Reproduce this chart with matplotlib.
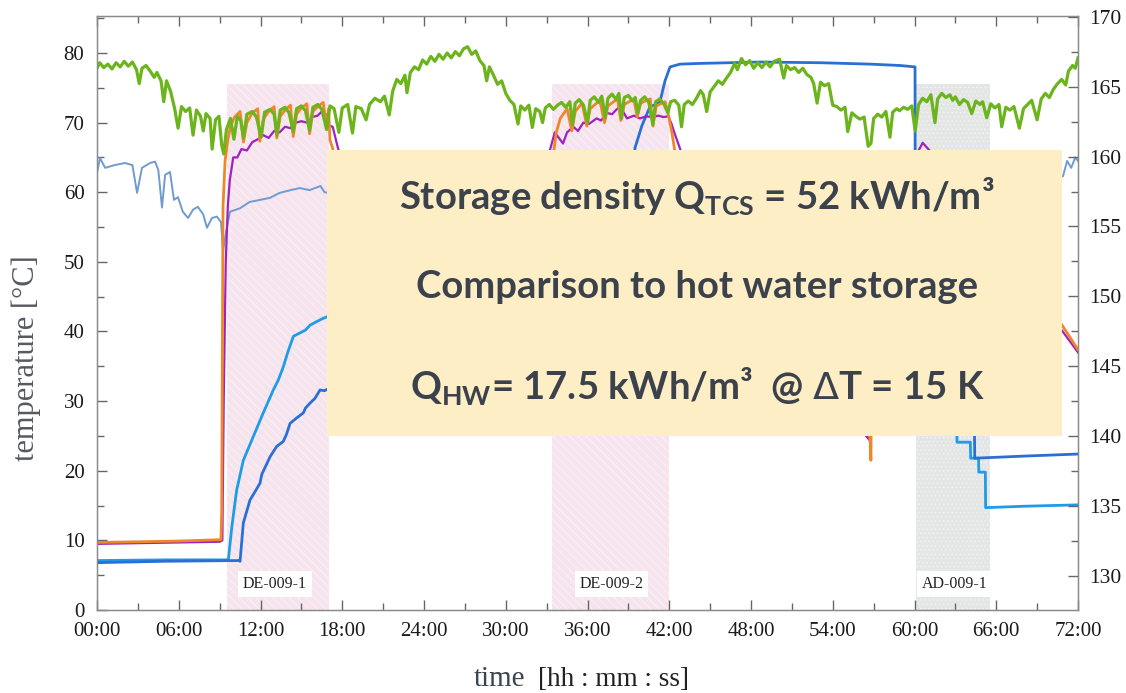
import matplotlib
matplotlib.use("Agg")
import matplotlib.pyplot as plt
from matplotlib.patches import Rectangle
from matplotlib.ticker import MultipleLocator, FixedLocator, FixedFormatter

# ---------------- data (hours, °C) ----------------
green_t = [0.0, 0.2, 0.5, 0.8, 1.1, 1.4, 1.7, 2.0, 2.3, 2.6, 2.9, 3.1, 3.3, 3.6, 3.9, 4.2, 4.4, 4.7, 4.9, 5.1,
           5.4, 5.7, 5.95, 6.2, 6.5, 6.8, 7.05, 7.3, 7.6, 7.8, 8.0, 8.3, 8.45, 8.7, 8.95, 9.15, 9.3, 9.5, 9.8, 10.05,
           10.3, 10.55, 10.75, 11.0, 11.4, 11.7, 12.05, 12.3, 12.7, 13.0, 13.2, 13.45, 13.8, 14.1, 14.4, 14.65, 15.0, 15.3, 15.6, 15.85,
           16.2, 16.5, 16.85, 17.1, 17.4, 17.75, 18.0, 18.4, 18.75, 19.0, 19.4, 19.75, 20.0, 20.4, 20.8, 21.1, 21.45, 21.7, 22.0, 22.3,
           22.6, 22.75, 23.0, 23.3, 23.6, 23.9, 24.2, 24.5, 24.8, 25.1, 25.4, 25.7, 26.0, 26.3, 26.6, 26.9, 27.2, 27.5, 27.8, 28.1,
           28.4, 28.6, 28.8, 29.1, 29.4, 29.7, 30.0, 30.3, 30.6, 30.9, 31.1, 31.4, 31.7, 31.95, 32.2, 32.5, 32.7, 32.9, 33.2, 33.5,
           33.8, 34.1, 34.4, 34.7, 34.9, 35.1, 35.4, 35.7, 36.0, 36.2, 36.5, 36.8, 37.05, 37.3, 37.5, 37.8, 38.1, 38.3, 38.5, 38.7,
           39.0, 39.3, 39.5, 39.7, 39.9, 40.2, 40.5, 40.8, 41.0, 41.3, 41.6, 41.9, 42.1, 42.4, 42.7, 42.9, 43.1, 43.4, 43.7, 44.0,
           44.3, 44.5, 44.75, 45.0, 45.3, 45.6, 45.9, 46.2, 46.5, 46.8, 47.0, 47.3, 47.6, 47.9, 48.2, 48.5, 48.8, 49.1, 49.4, 49.7,
           50.1, 50.4, 50.6, 50.9, 51.2, 51.5, 51.8, 52.1, 52.4, 52.6, 52.85, 53.1, 53.4, 53.7, 54.0, 54.3, 54.6, 54.9, 55.1, 55.4,
           55.7, 56.0, 56.3, 56.6, 56.8, 57.0, 57.3, 57.6, 57.9, 58.2, 58.4, 58.7, 58.9, 59.2, 59.5, 59.8, 60.05, 60.3, 60.6, 60.9,
           61.2, 61.5, 61.7, 62.0, 62.3, 62.6, 62.8, 63.0, 63.3, 63.6, 63.9, 64.2, 64.5, 64.8, 65.0, 65.3, 65.6, 65.9, 66.2, 66.4,
           66.7, 67.0, 67.3, 67.7, 68.0, 68.3, 68.6, 69.0, 69.3, 69.6, 69.9, 70.2, 70.5, 70.8, 71.1, 71.3, 71.6, 71.8, 72.0]
green_v = [77.8, 78.6, 77.9, 78.4, 77.7, 78.6, 78.0, 78.8, 78.1, 78.7, 77.6, 75.6, 77.8, 78.2, 77.4, 76.5, 77.2, 76.0, 73.0, 76.0,
           74.5, 72.0, 69.2, 72.3, 71.6, 72.1, 68.2, 71.8, 70.9, 68.8, 71.3, 70.6, 66.2, 70.4, 70.9, 66.8, 65.5, 69.0, 70.6, 67.6,
           70.9, 70.3, 67.8, 71.2, 71.6, 70.8, 67.9, 71.5, 71.9, 71.2, 68.2, 71.8, 72.2, 71.4, 68.7, 72.0, 72.4, 71.7, 68.9, 72.2,
           72.6, 71.9, 69.0, 72.4, 72.0, 68.6, 72.1, 72.6, 68.5, 72.3, 72.0, 70.4, 72.6, 73.5, 73.0, 73.8, 71.1, 74.5, 76.2, 75.6,
           76.8, 74.3, 77.2, 78.0, 77.6, 79.0, 78.4, 79.5, 78.8, 79.8, 79.1, 80.0, 79.3, 80.2, 79.6, 80.6, 80.9, 79.8, 80.3, 78.9,
           78.2, 76.0, 78.0, 76.8, 75.5, 76.0, 74.2, 73.2, 72.6, 69.8, 72.4, 71.8, 72.5, 69.3, 72.0, 71.6, 70.0, 72.1, 72.6, 71.9,
           72.5, 72.9, 72.2, 73.0, 69.7, 72.8, 73.3, 72.5, 70.1, 73.2, 73.7, 72.9, 73.8, 70.7, 73.5, 74.1, 73.3, 74.2, 70.6, 73.6,
           73.9, 73.1, 73.6, 71.4, 73.2, 73.7, 72.9, 69.7, 73.0, 73.4, 72.7, 71.4, 73.0, 73.2, 72.5, 69.4, 72.6, 73.1, 72.6, 73.5,
           74.6, 74.0, 71.6, 74.4, 75.2, 76.0, 75.5, 76.4, 77.2, 78.5, 77.6, 79.2, 78.3, 78.9, 77.8, 78.6, 77.9, 78.7, 78.0, 78.8,
           79.1, 76.4, 78.2, 77.6, 77.9, 77.2, 77.8, 76.9, 76.5, 75.6, 72.8, 75.8, 75.3, 75.6, 72.5, 72.3, 71.8, 72.2, 68.7, 71.4,
           70.9, 70.5, 70.8, 66.6, 67.0, 70.6, 71.2, 70.8, 71.6, 67.9, 71.5, 72.0, 71.7, 72.2, 71.9, 72.4, 68.8, 72.6, 73.5, 73.0,
           74.0, 70.0, 73.4, 74.2, 73.6, 74.0, 73.2, 73.7, 72.6, 73.3, 72.9, 71.3, 73.1, 72.6, 73.0, 70.7, 72.7, 72.1, 72.6, 69.4,
           72.2, 71.8, 72.3, 69.2, 72.0, 72.6, 73.2, 70.4, 73.4, 74.2, 73.6, 74.8, 75.6, 76.2, 75.4, 77.4, 78.2, 77.8, 79.3]

orange_t = [0.0, 3.0, 6.0, 9.1, 9.15, 9.25, 9.4, 9.6, 9.8, 10.1, 10.5, 10.75, 11.0, 11.4, 11.8, 11.95, 12.2, 12.6, 13.0, 13.2,
            13.45, 13.8, 14.2, 14.4, 14.65, 15.0, 15.4, 15.6, 15.85, 16.2, 16.6, 16.85, 17.0, 17.1, 17.3, 17.6, 20.0, 25.0, 30.0, 33.0,
            33.2, 33.35, 33.5, 33.7, 34.0, 34.5, 34.85, 35.1, 35.6, 35.95, 36.2, 36.9, 37.25, 37.5, 38.2, 38.45, 38.7, 39.4, 39.65, 39.9,
            40.6, 40.8, 41.05, 41.7, 41.95, 42.2, 42.4, 42.7, 45.0, 50.0, 55.0, 56.7, 56.8, 56.85, 60.0, 60.1, 60.4, 61.0, 63.0, 66.0,
            69.0, 70.8, 72.0]
orange_v = [9.7, 9.8, 9.9, 10.1, 14.0, 58.0, 64.5, 67.5, 69.5, 70.8, 71.6, 67.2, 70.0, 71.4, 72.0, 67.3, 70.5, 71.6, 72.3, 67.8,
            70.9, 71.8, 72.5, 68.0, 71.2, 72.1, 72.7, 68.4, 71.6, 72.3, 72.9, 69.5, 72.0, 67.5, 66.3, 63.0, 55.0, 45.0, 39.0, 36.0,
            42.0, 60.0, 65.5, 68.5, 70.6, 72.0, 68.8, 71.6, 72.8, 69.5, 72.0, 73.2, 70.0, 72.4, 73.4, 70.3, 72.6, 73.4, 70.8, 72.8,
            73.4, 69.5, 72.4, 73.0, 71.0, 68.5, 66.0, 63.0, 55.0, 40.0, 30.0, 26.2, 21.5, 33.0, 31.0, 58.0, 63.0, 62.0, 57.0, 50.0,
            44.0, 41.0, 37.4]

purple_t = [0.0, 9.0, 9.2, 9.3, 9.45, 9.6, 9.75, 10.0, 10.3, 10.6, 11.0, 11.4, 11.8, 12.2, 12.6, 13.0, 13.4, 13.8, 14.2, 14.6,
            15.0, 15.4, 15.8, 16.2, 16.5, 16.8, 17.0, 17.3, 17.6, 18.0, 22.0, 28.0, 33.0, 33.15, 33.25, 33.6, 33.9, 34.2, 34.5, 34.96,
            35.3, 35.7, 36.1, 36.67, 37.0, 37.4, 37.8, 38.14, 38.4, 38.9, 39.4, 39.85, 40.3, 40.8, 41.2, 41.56, 41.93, 42.17, 42.4, 42.55,
            42.8, 43.5, 46.0, 50.0, 53.0, 56.0, 56.7, 56.75, 59.0, 60.0, 60.05, 60.2, 60.6, 61.1, 62.0, 64.0, 67.0, 70.0, 70.8, 72.0]
purple_v = [9.5, 9.8, 10.0, 30.0, 50.0, 58.0, 61.8, 65.0, 65.0, 66.2, 66.0, 67.2, 67.6, 68.2, 67.8, 68.8, 68.6, 69.4, 69.2, 70.0,
            70.2, 70.0, 70.8, 71.0, 71.6, 71.2, 69.6, 69.4, 67.0, 64.0, 55.0, 46.0, 40.0, 55.0, 66.1, 68.6, 67.8, 67.0, 68.6, 69.4,
            68.8, 70.0, 69.8, 70.6, 70.3, 71.4, 71.2, 71.9, 72.3, 70.6, 71.0, 70.6, 70.9, 70.8, 71.0, 70.8, 70.9, 69.8, 68.4, 67.6,
            66.2, 62.0, 52.0, 42.0, 34.0, 26.1, 24.4, 31.0, 30.0, 29.0, 60.0, 65.6, 67.1, 66.0, 62.0, 56.0, 48.0, 41.0, 40.2, 37.0]

steel_t = [0.0, 0.22, 0.6, 1.3, 2.05, 2.6, 2.94, 3.3, 3.9, 4.26, 4.5, 4.77, 5.0, 5.36, 5.65, 5.94, 6.3, 6.68, 7.05, 7.4,
           7.8, 8.07, 8.44, 8.8, 9.1, 9.25, 9.47, 9.76, 10.5, 11.2, 11.96, 12.7, 13.4, 14.2, 14.9, 15.6, 16.4, 16.7, 20.0, 30.0,
           40.0, 50.0, 60.0, 70.0, 70.9, 71.2, 71.5, 71.8, 72.0]
steel_v = [62.8, 64.9, 63.5, 63.9, 64.2, 63.9, 59.9, 63.5, 64.2, 64.4, 63.2, 57.8, 62.5, 62.9, 58.9, 59.3, 57.2, 56.3, 57.5, 57.9,
           56.8, 54.9, 56.3, 56.5, 55.7, 51.5, 54.3, 57.2, 57.7, 58.6, 58.9, 59.2, 59.9, 60.3, 60.6, 60.3, 60.9, 60.0, 59.0, 62.0,
           60.0, 63.0, 60.0, 62.0, 62.3, 64.5, 63.5, 65.0, 64.5]

blue_t = [0.0, 5.0, 10.4, 10.5, 10.74, 11.23, 11.6, 11.96, 12.1, 12.7, 13.19, 13.67, 13.9, 14.17, 14.6, 15.14, 15.3, 15.63, 16.0, 16.37,
          16.7, 17.0, 20.0, 30.0, 33.0, 36.0, 39.0, 39.49, 40.0, 40.59, 41.0, 41.32, 41.69, 42.06, 42.79, 44.26, 48.66, 53.06, 56.73, 58.94,
          60.04, 60.06, 62.0, 64.4, 64.42, 68.0, 72.0]
blue_v = [6.8, 7.0, 7.1, 7.0, 12.5, 15.8, 17.0, 18.2, 19.5, 22.0, 23.5, 24.2, 25.2, 26.8, 27.5, 28.3, 29.0, 29.7, 30.4, 31.6,
          31.5, 31.8, 33.0, 36.0, 37.0, 45.0, 58.0, 66.4, 69.6, 72.3, 72.6, 73.0, 76.0, 78.0, 78.4, 78.5, 78.7, 78.6, 78.4, 78.2,
          78.0, 45.0, 32.0, 26.0, 21.8, 22.1, 22.4]

light_t = [0.0, 5.0, 9.64, 9.9, 10.25, 10.74, 11.47, 12.2, 12.94, 13.3, 13.67, 14.0, 14.41, 14.9, 15.3, 15.63, 16.1, 16.61, 17.0, 20.0,
           33.0, 36.0, 42.0, 50.0, 60.0, 60.1, 63.1, 63.12, 64.1, 64.12, 64.7, 64.72, 65.2, 65.22, 68.0, 72.0]
light_v = [7.1, 7.2, 7.2, 12.0, 17.2, 21.5, 24.9, 28.3, 31.6, 33.0, 34.9, 37.0, 39.3, 39.8, 40.2, 40.9, 41.4, 41.9, 42.2, 41.0,
           38.0, 44.0, 50.0, 46.0, 42.0, 32.0, 27.0, 24.1, 24.1, 21.8, 21.8, 19.8, 19.8, 14.7, 14.9, 15.1]

span_names = ["DE-009-1", "DE-009-2", "AD-009-1"]
span_start = [9.55, 33.4, 60.1]
span_end = [17.05, 42.0, 65.55]
span_top = 75.6
span_label_x = [13.06, 37.77, 62.97]

x_ticks = list(range(0, 73, 6))
x_ticklabels = ["%02d:00" % h for h in x_ticks]
left_ticks = list(range(0, 81, 10))
right_ticks = list(range(130, 171, 5))

box_lines = [r"Storage density Q$_{\mathregular{TCS}}$ = 52 kWh/m³",
             "Comparison to hot water storage",
             r"Q$_{\mathregular{HW}}$= 17.5 kWh/m³  @ $\Delta$T = 15 K"]

# ---------------- figure ----------------
W, H = 1126, 693
fig = plt.figure(figsize=(W / 100, H / 100), dpi=100)
fig.patch.set_facecolor("white")
ax_l, ax_r, ax_t, ax_b = 97, 1078, 16, 610
ax = fig.add_axes([ax_l / W, 1 - ax_b / H, (ax_r - ax_l) / W, (ax_b - ax_t) / H])
ax.set_xlim(0, 72)
ax.set_ylim(0, 85.31)

serif = "Liberation Serif"
spine_c = "#8a8a8a"
for s in ax.spines.values():
    s.set_color(spine_c)
    s.set_linewidth(1.0)

# shaded periods
plt.rcParams["hatch.linewidth"] = 0.6
span_face = ["#f5e4ed", "#f5e4ed", "#e4e6e6"]
span_hatch = ["\\\\\\\\", "\\\\\\\\", "...."]
span_hcol = ["#fbf2f6", "#fbf2f6", "#f2f3f3"]
for a, b, fc, hc, hh in zip(span_start, span_end, span_face, span_hcol, span_hatch):
    ax.add_patch(Rectangle((a, 0), b - a, span_top, facecolor=fc, edgecolor=hc,
                           hatch=hh, linewidth=0, zorder=1))
for xm, name in zip(span_label_x, span_names):
    ax.text(xm, 3.75, name, ha="center", va="center", fontsize=11.5, family=serif,
            color="#222222", zorder=6,
            bbox=dict(facecolor="white", edgecolor="none", pad=3.5))

# lines
ax.plot(steel_t, steel_v, color="#6f9bd0", lw=1.4, zorder=3)
ax.plot(light_t, light_v, color="#1f9be8", lw=2.0, zorder=3.1)
ax.plot(blue_t, blue_v, color="#2a6fd6", lw=2.0, zorder=3.2)
ax.plot(purple_t, purple_v, color="#a020c0", lw=1.6, zorder=3.3)
ax.plot(orange_t, orange_v, color="#f0862a", lw=2.0, zorder=3.4)
ax.plot(green_t, green_v, color="#6cb41c", lw=2.3, zorder=3.5)

# ticks
ax.xaxis.set_major_locator(FixedLocator(x_ticks))
ax.xaxis.set_major_formatter(FixedFormatter(x_ticklabels))
ax.xaxis.set_minor_locator(MultipleLocator(3))
ax.yaxis.set_major_locator(FixedLocator(left_ticks))
ax.yaxis.set_minor_locator(MultipleLocator(5))
ax.tick_params(which="both", direction="in", top=True, bottom=True, left=True, right=False,
               color="#666666", width=1.0)
ax.tick_params(which="major", length=7)
ax.tick_params(which="minor", length=5)
ax.tick_params(axis="x", which="major", pad=9, labelsize=15, labelcolor="#1a1a1a")
ax.tick_params(axis="y", which="major", pad=9, labelsize=15, labelcolor="#1a1a1a")
for lab in ax.get_xticklabels() + ax.get_yticklabels():
    lab.set_family(serif)

ax2 = ax.twinx()
ax2.set_ylim(127.58, 170.05)
for s in ax2.spines.values():
    s.set_color(spine_c)
ax2.yaxis.set_major_locator(FixedLocator(right_ticks))
ax2.yaxis.set_minor_locator(MultipleLocator(2.5))
ax2.tick_params(which="both", direction="in", color="#666666", width=1.0)
ax2.tick_params(which="major", length=7, pad=8, labelsize=15.5, labelcolor="#1a1a1a")
ax2.tick_params(which="minor", length=5)
for lab in ax2.get_yticklabels():
    lab.set_family(serif)

# axis labels
fig.text(26 / W, 1 - 358 / H, "temperature [°C]", rotation=90, ha="center", va="center",
         fontsize=22, family=serif, color="#555a60")
fig.text(500 / W, 1 - 679 / H, "time", ha="center", va="center", fontsize=21,
         family=serif, color="#3c4650")
fig.text(613 / W, 1 - 679 / H, "[hh : mm : ss]", ha="center", va="center", fontsize=19.5,
         family=serif, color="#222222")

# info box
fig.patches.append(Rectangle((327 / W, 1 - 436 / H), (1062 - 327) / W, (436 - 150) / H,
                             transform=fig.transFigure, facecolor="#fdeec6",
                             edgecolor="none", zorder=5))
for yy, txt in zip([197, 287, 387], box_lines):
    fig.text(697 / W, 1 - yy / H, txt, ha="center", va="center", fontsize=27.5,
             family="Lato", weight="bold", color="#3b424c", zorder=6)

fig.savefig("out.png", dpi=100)
